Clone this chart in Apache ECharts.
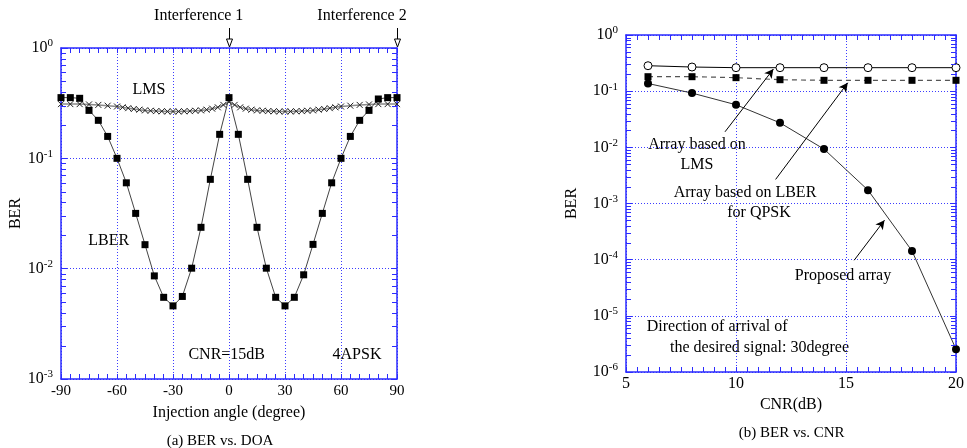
<!DOCTYPE html>
<html><head><meta charset="utf-8">
<script src="https://cdn.jsdelivr.net/npm/echarts@6/dist/echarts.min.js"></script>
<style>html,body{margin:0;padding:0;background:#fff}#c{width:967px;height:448px}</style>
</head><body><div id="c"></div>
<script>
// ---- (a) BER vs DOA ----
const lmsAngles = [-90,-85,-80,-75,-70,-65,-60,-57,-54,-51,-48,-45,-42,-39,-36,-33,-30,-27,-24,-21,-18,-15,-12,-9,-6,-3,0,3,6,9,12,15,18,21,24,27,30,33,36,39,42,45,48,51,54,57,60,65,70,75,80,85,90];
const lmsBer = [0.31,0.31,0.31,0.308,0.305,0.30,0.295,0.29,0.285,0.28,0.276,0.272,0.27,0.268,0.267,0.266,0.266,0.266,0.267,0.268,0.27,0.272,0.276,0.282,0.29,0.305,0.325,0.305,0.29,0.282,0.276,0.272,0.27,0.268,0.267,0.266,0.266,0.266,0.267,0.268,0.27,0.272,0.276,0.28,0.285,0.29,0.295,0.30,0.305,0.308,0.31,0.31,0.31];
const lberAngles = [-90,-85,-80,-75,-70,-65,-60,-55,-50,-45,-40,-35,-30,-25,-20,-15,-10,-5,0,5,10,15,20,25,30,35,40,45,50,55,60,65,70,75,80,85,90];
const lberBer = [0.355,0.355,0.35,0.272,0.221,0.158,0.1,0.06,0.0317,0.0165,0.0086,0.0055,0.0046,0.0056,0.0101,0.0237,0.0645,0.165,0.355,0.165,0.0645,0.0237,0.0101,0.0055,0.0046,0.0055,0.0088,0.0166,0.0317,0.06,0.1,0.158,0.221,0.272,0.345,0.355,0.355];
const interferenceAngles = [0, 90];
// ---- (b) BER vs CNR ----
const cnr = [6,8,10,12,14,16,18,20];
const lmsCnrBer = [0.284,0.269,0.262,0.262,0.262,0.262,0.262,0.262];
const lberQpskBer = [0.181,0.181,0.174,0.16,0.156,0.156,0.156,0.156];
const proposedBer = [0.137,0.0925,0.0573,0.0273,0.0093,0.00173,0.000143,0.00000255];

const BLUE = '#2b2bff';
const GRIDC = '#3c3cff';
const FONT = 'Liberation Serif';
const zip = (a,b)=>a.map((v,i)=>[v,b[i]]);

function minorVals(lo, hi){ const r=[]; for(let e=lo;e<hi;e++){ for(let k=2;k<=9;k++) r.push(k*Math.pow(10,e)); } return r; }

function yLabel(v){ const e = Math.round(Math.log10(v)); return '{b|10}{s|' + e + '}'; }
const yRich = { b:{fontSize:16,fontFamily:FONT,color:'#000'}, s:{fontSize:11,fontFamily:FONT,color:'#000',padding:[0,0,9,0]} };

function minorTickSeries(xi, yi, xmin, vals){
  return { type:'custom', xAxisIndex:xi, yAxisIndex:yi, silent:true, clip:false, z:5,
    data: vals.map(v=>[xmin, v]), encode:{x:0,y:1},
    renderItem(params, api){
      const y = Math.round(api.coord([xmin, api.value(1)])[1]) + 0.5;
      const xl = params.coordSys.x, xr = xl + params.coordSys.width;
      return {type:'group', children:[
        {type:'line', shape:{x1:xl,y1:y,x2:xl+5,y2:y}, style:{stroke:BLUE,lineWidth:1}},
        {type:'line', shape:{x1:xr-5,y1:y,x2:xr,y2:y}, style:{stroke:BLUE,lineWidth:1}}
      ]};
    } };
}

// interference arrows: drawn above the plot at the interference angles
function arrowSeries(xi, yi, angles){
  return { type:'custom', xAxisIndex:xi, yAxisIndex:yi, silent:true, clip:false, z:6,
    data: angles.map(a=>[a, 1]), encode:{x:0,y:1},
    renderItem(params, api){
      const p = api.coord([api.value(0), 1]);
      const x = Math.round(p[0]) + 0.5, yb = p[1] - 1, yt = p[1] - 20;
      return {type:'group', children:[
        {type:'line', shape:{x1:x,y1:yt,x2:x,y2:yb-7}, style:{stroke:'#000',lineWidth:1}},
        {type:'polygon', shape:{points:[[x-3,yb-8],[x+3,yb-8],[x,yb]]}, style:{fill:'#fff',stroke:'#000',lineWidth:1}}
      ]};
    } };
}

const axisBase = {
  axisLine:{show:true,onZero:false,lineStyle:{color:BLUE,width:1.5}},
  axisTick:{show:true,inside:true,length:6,lineStyle:{color:BLUE}},
  minorTick:{show:true,length:4,lineStyle:{color:BLUE}},
};

const chart = echarts.init(document.getElementById('c'));
const txt = (x,y,t,align,size)=>({type:'text', x:x, y:y, style:{text:t, font:(size||16)+'px "'+FONT+'"', fill:'#000', textAlign:align||'center', textVerticalAlign:'middle'}});

chart.setOption({
  animation:false,
  backgroundColor:'#fff',
  grid:[
    {left:61, top:48, width:336, height:331},
    {left:626, top:35, width:336, height:337}
  ],
  xAxis:[
    Object.assign({}, axisBase, {gridIndex:0, type:'value', min:-90, max:90, interval:30,
      minorTick:{show:true,splitNumber:6,length:5,lineStyle:{color:BLUE}},
      axisTick:{show:true,inside:true,length:5,lineStyle:{color:BLUE}},
      axisLabel:{color:'#000',fontFamily:FONT,fontSize:15,margin:5},
      splitLine:{show:true,lineStyle:{color:GRIDC,type:[1,2],width:1}},
      name:'Injection angle (degree)', nameLocation:'middle', nameGap:26,
      nameTextStyle:{color:'#000',fontFamily:FONT,fontSize:16}}),
    Object.assign({}, axisBase, {gridIndex:0, type:'value', position:'top', min:-90, max:90, interval:30,
      minorTick:{show:true,splitNumber:6,length:5,lineStyle:{color:BLUE}},
      axisTick:{show:true,inside:true,length:5,lineStyle:{color:BLUE}},
      axisLabel:{show:false}, splitLine:{show:false}}),
    Object.assign({}, axisBase, {gridIndex:1, type:'value', min:5, max:20, interval:5,
      minorTick:{show:true,splitNumber:10,length:5,lineStyle:{color:BLUE}},
      axisTick:{show:true,inside:true,length:5,lineStyle:{color:BLUE}},
      axisLabel:{color:'#000',fontFamily:FONT,fontSize:16,margin:4},
      splitLine:{show:true,lineStyle:{color:GRIDC,type:[1,2],width:1}},
      name:'CNR(dB)', nameLocation:'middle', nameGap:22,
      nameTextStyle:{color:'#000',fontFamily:FONT,fontSize:16}}),
    Object.assign({}, axisBase, {gridIndex:1, type:'value', position:'top', min:5, max:20, interval:5,
      minorTick:{show:true,splitNumber:10,length:5,lineStyle:{color:BLUE}},
      axisTick:{show:true,inside:true,length:5,lineStyle:{color:BLUE}},
      axisLabel:{show:false}, splitLine:{show:false}})
  ],
  yAxis:[
    Object.assign({}, axisBase, {gridIndex:0, type:'log', logBase:10, min:0.001, max:1,
      minorTick:{show:false},
      axisLabel:{formatter:yLabel, rich:yRich, margin:8},
      splitLine:{show:true,lineStyle:{color:GRIDC,type:[1,2],width:1}},
      name:'BER', nameLocation:'middle', nameGap:36, nameRotate:90,
      nameTextStyle:{color:'#000',fontFamily:FONT,fontSize:16}}),
    Object.assign({}, axisBase, {gridIndex:0, type:'log', logBase:10, min:0.001, max:1, position:'right',
      minorTick:{show:false}, axisLabel:{show:false}, splitLine:{show:false}}),
    Object.assign({}, axisBase, {gridIndex:1, type:'log', logBase:10, min:0.000001, max:1,
      minorTick:{show:false},
      axisLabel:{formatter:yLabel, rich:yRich, margin:8},
      splitLine:{show:true,lineStyle:{color:GRIDC,type:[1,2],width:1}},
      name:'BER', nameLocation:'middle', nameGap:46, nameRotate:90,
      nameTextStyle:{color:'#000',fontFamily:FONT,fontSize:16}}),
    Object.assign({}, axisBase, {gridIndex:1, type:'log', logBase:10, min:0.000001, max:1, position:'right',
      minorTick:{show:false}, axisLabel:{show:false}, splitLine:{show:false}})
  ],
  series:[
    minorTickSeries(0,0,-90,minorVals(-3,0)),
    minorTickSeries(2,2,5,minorVals(-6,0)),
    arrowSeries(0,0,interferenceAngles),
    { type:'line', name:'LMS', xAxisIndex:0, yAxisIndex:0, data:zip(lmsAngles,lmsBer), z:3,
      symbol:'path://M0,0L10,10M10,0L0,10', symbolSize:6,
      itemStyle:{color:'#333',borderColor:'#222',borderWidth:1},
      lineStyle:{color:'#8a8a8a',width:1.5} },
    { type:'line', name:'LBER', xAxisIndex:0, yAxisIndex:0, data:zip(lberAngles,lberBer), z:4, clip:false,
      symbol:'rect', symbolSize:7, itemStyle:{color:'#000'},
      lineStyle:{color:'#444',width:1} },
    { type:'line', name:'Array based on LMS', xAxisIndex:2, yAxisIndex:2, data:zip(cnr,lmsCnrBer), z:4,
      symbol:'circle', symbolSize:8, itemStyle:{color:'#fff',borderColor:'#000',borderWidth:1},
      lineStyle:{color:'#000',width:1} },
    { type:'line', name:'Array based on LBER for QPSK', xAxisIndex:2, yAxisIndex:2, data:zip(cnr,lberQpskBer), z:4,
      symbol:'rect', symbolSize:7, itemStyle:{color:'#000'},
      lineStyle:{color:'#555',width:1.2,type:[5,4]} },
    { type:'line', name:'Proposed array', xAxisIndex:2, yAxisIndex:2, data:zip(cnr,proposedBer), z:4, clip:false,
      symbol:'circle', symbolSize:8, itemStyle:{color:'#000'},
      lineStyle:{color:'#333',width:1},
      markLine:{silent:true, symbol:['none','arrow'], symbolSize:[7,9], label:{show:false},
        lineStyle:{color:'#000',width:1,type:'solid'},
        data:[
          [{coord:[9.5,0.0189]},{coord:[11.7,0.248]}],
          [{coord:[11.8,0.00268]},{coord:[15.08,0.141]}],
          [{coord:[15.37,0.0000975]},{coord:[16.75,0.000504]}]
        ] } }
  ],
  graphic:[
    txt(198.7,16,'Interference 1'),
    txt(362,16,'Interference 2'),
    txt(149,90,'LMS'),
    txt(108.7,241,'LBER'),
    txt(226.7,355,'CNR=15dB'),
    txt(357,355,'4APSK'),
    txt(220,441,'(a) BER vs. DOA',null,15),
    txt(697,145,'Array based on'),
    txt(697,165,'LMS'),
    txt(745,193,'Array based on LBER'),
    txt(759,213,'for QPSK'),
    txt(843,276,'Proposed array'),
    txt(646.7,327,'Direction of arrival of','left'),
    txt(670,348,'the desired signal: 30degree','left'),
    txt(791.7,433,'(b) BER vs. CNR',null,15)
  ]
});
</script></body></html>
